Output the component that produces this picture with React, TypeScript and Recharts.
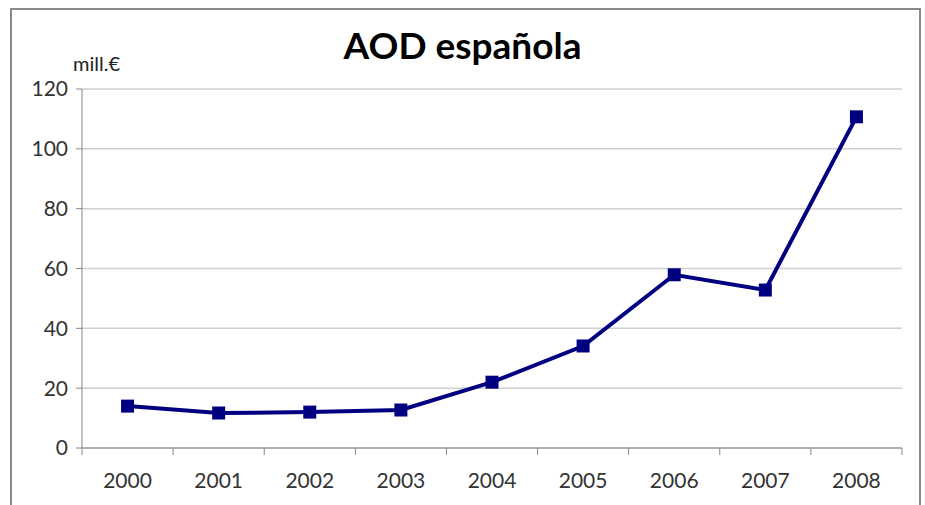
import { LineChart, Line, XAxis, YAxis, CartesianGrid } from "recharts";

const years = ["2000", "2001", "2002", "2003", "2004", "2005", "2006", "2007", "2008"];
const aod = [14, 11.7, 12, 12.7, 22, 34.1, 57.9, 52.8, 110.7];
const yTicks = [0, 20, 40, 60, 80, 100, 120];

const data = years.map((year, i) => ({ year, aod: aod[i] }));

const FONT = "Lato, 'Open Sans', sans-serif";
const AXIS = "#868686";

function YearTick(props: any) {
  const { x, y, payload, index, visibleTicksCount } = props;
  const half = payload?.offset || 45.5;
  const isLast = index === visibleTicksCount - 1;
  return (
    <g>
      <line x1={x - half} y1={y - 8} x2={x - half} y2={y - 1} stroke={AXIS} />
      {isLast && <line x1={x + half} y1={y - 8} x2={x + half} y2={y - 1} stroke={AXIS} />}
      <text x={x} y={y + 32} textAnchor="middle" fontSize={21} fill="#333" fontFamily={FONT}>
        {payload.value}
      </text>
    </g>
  );
}

function Square(props: any) {
  const { cx, cy } = props;
  if (cx == null || cy == null) return null;
  return <rect x={cx - 6.5} y={cy - 6.5} width={13} height={13} fill="#000080" />;
}

export default function App() {
  return (
    <div style={{ position: "absolute", left: 0, top: 0, width: 925, height: 505, background: "#fff", overflow: "hidden" }}>
      <div
        style={{
          position: "absolute",
          left: 10,
          top: 8,
          width: 911,
          height: 520,
          border: "2px solid #8a8a8a",
          boxSizing: "border-box",
        }}
      />
      <div
        style={{
          position: "absolute",
          left: 0,
          width: 925,
          top: 22,
          textAlign: "center",
          fontFamily: FONT,
          fontWeight: 700,
          fontSize: 37,
          color: "#000",
        }}
      >
        AOD española
      </div>
      <div style={{ position: "absolute", left: 73, top: 51, fontFamily: FONT, fontSize: 20, color: "#222" }}>
        mill.€
      </div>
      <div style={{ position: "absolute", left: 0, top: 0 }}>
        <LineChart width={925} height={505} data={data} margin={{ top: 89, right: 23, left: 12, bottom: 0 }}>
          <CartesianGrid vertical={false} stroke="#d0d0d0" strokeWidth={1.5} />
          <XAxis
            dataKey="year"
            scale="band"
            height={57}
            axisLine={{ stroke: AXIS }}
            tickLine={false}
            tick={<YearTick />}
            interval={0}
          />
          <YAxis
            width={70}
            domain={[0, 120]}
            ticks={yTicks}
            axisLine={{ stroke: AXIS }}
            tickLine={{ stroke: AXIS }}
            tickSize={6}
            tickMargin={8}
            tick={{ fontSize: 21, fill: "#333", fontFamily: FONT }}
          />
          <Line
            dataKey="aod"
            stroke="#000080"
            strokeWidth={4}
            dot={<Square />}
            isAnimationActive={false}
          />
        </LineChart>
      </div>
    </div>
  );
}
